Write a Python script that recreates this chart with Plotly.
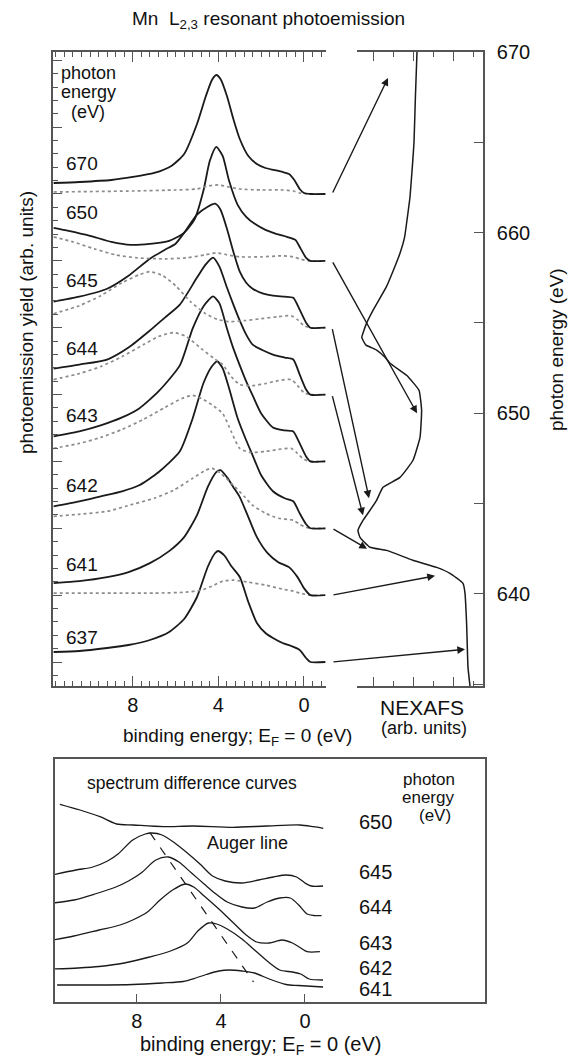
import plotly.graph_objects as go

W, H = 568, 1059
FONT = "Liberation Sans, Arial, Helvetica, sans-serif"

# ---------------- data ----------------
PHOTON_ENERGIES = [637, 641, 642, 643, 644, 645, 650, 670]

# top panel: (binding energy eV, yield arb. units above the spectrum's own baseline)
S637 = [(11.7,10),(10.5,11),(9.2,14),(8.2,17),(7.2,22),(6.3,30),(5.6,43),(5.0,65),(4.5,95),(4.15,109),(4.0,111),(3.7,106),(3.4,96),(3.0,85),(2.6,60),(2.2,39),(1.8,29),(1.45,24),(1.0,19),(0.6,16),(0.2,12),(-0.1,4),(-0.3,0),(-1.0,0)]
S641 = [(11.7,12),(10.5,14),(9.2,18),(8.2,23),(7.2,32),(6.3,44),(5.6,58),(5.0,80),(4.5,108),(4.1,123),(3.9,125),(3.6,118),(3.3,108),(3.0,98),(2.6,78),(2.2,58),(1.7,42),(1.2,33),(0.7,28),(0.3,18),(0.0,7),(-0.3,0),(-1.0,0)]
S642 = [(11.7,22),(10.5,27),(9.5,32),(8.5,37),(7.7,43),(6.8,56),(5.8,77),(5.2,110),(4.7,145),(4.3,162),(4.05,167),(3.8,160),(3.5,140),(3.1,110),(2.7,88),(2.4,73),(2.0,53),(1.45,37),(0.9,30),(0.5,27),(0.2,15),(-0.1,4),(-0.3,0),(-1.0,0)]
S643 = [(11.7,25),(10.5,30),(9.5,36),(8.5,44),(7.7,53),(6.8,70),(5.8,96),(5.2,133),(4.7,155),(4.25,165),(3.95,158),(3.6,133),(3.3,113),(3.0,96),(2.7,80),(2.4,66),(2.0,48),(1.45,34),(0.9,31),(0.5,30),(0.2,18),(-0.1,5),(-0.3,0),(-1.0,0)]
S644 = [(11.7,26),(10.5,30),(9.2,35),(8.2,47),(7.2,64),(6.5,77),(5.8,90),(5.0,117),(4.6,130),(4.25,137),(3.95,128),(3.6,107),(3.3,90),(3.0,74),(2.7,60),(2.4,50),(1.9,44),(1.45,40),(0.9,37),(0.5,35),(0.2,20),(-0.1,5),(-0.3,0),(-1.0,0)]
S645 = [(11.7,26),(10.5,31),(9.2,39),(8.2,52),(7.2,69),(6.5,78),(6.0,84),(5.5,98),(5.0,113),(4.5,121),(4.15,124),(3.9,118),(3.6,99),(3.3,76),(3.0,56),(2.7,45),(2.4,39),(1.9,34),(1.45,32),(0.9,31),(0.5,30),(0.2,18),(-0.1,5),(-0.3,0),(-1.0,0)]
S650 = [(11.7,33),(11.0,30),(10.0,25),(9.0,19),(8.1,16),(7.2,17),(6.3,20),(5.6,28),(5.1,42),(4.7,70),(4.4,100),(4.1,114),(3.8,105),(3.5,80),(3.1,56),(2.7,44),(2.3,37),(1.8,31),(1.3,27),(0.8,24),(0.4,21),(0.15,12),(-0.1,3),(-0.3,0),(-1.0,0)]
S670 = [(11.7,11),(10.5,12),(9.0,14),(8.0,17),(7.0,21),(6.2,28),(5.6,40),(5.0,70),(4.6,97),(4.3,114),(4.1,119),(3.9,115),(3.6,98),(3.3,75),(3.0,55),(2.6,38),(2.2,30),(1.8,26),(1.4,24),(1.0,22),(0.7,20),(0.45,14),(0.2,5),(0.0,1),(-0.3,0),(-1.0,0)]

D641 = [(11.7,2),(9.0,2),(7.0,2),(5.5,3),(4.8,5),(4.3,9),(3.8,14),(3.3,15),(2.6,13),(1.8,10),(1.0,6),(0.5,4),(0.2,2),(-0.3,0),(-1.0,0)]
D642 = [(11.7,12),(10.5,14),(9.2,17),(8.0,24),(7.0,30),(6.1,38),(5.2,50),(4.6,58),(4.3,60),(3.9,55),(3.3,43),(2.8,32),(2.4,23),(1.8,15),(1.2,10),(0.5,8),(0.2,4),(-0.1,1),(-0.3,0),(-1.0,0)]
D643 = [(11.7,13),(10.5,18),(9.5,24),(8.5,32),(7.5,42),(6.5,54),(5.7,63),(5.2,66),(4.7,62),(4.2,55),(3.8,48),(3.4,30),(3.0,13),(2.5,9),(1.8,10),(1.2,12),(0.6,13),(0.3,8),(0.0,2),(-0.3,0),(-1.0,0)]
D644 = [(11.7,15),(10.5,21),(9.5,28),(8.5,38),(7.5,50),(6.8,58),(6.1,62),(5.5,58),(4.8,46),(4.2,36),(3.8,30),(3.4,18),(3.0,10),(2.4,9),(1.8,11),(1.2,14),(0.6,15),(0.3,9),(0.0,2),(-0.3,0),(-1.0,0)]
D645 = [(11.7,14),(10.5,22),(9.5,32),(8.5,45),(7.7,53),(7.2,56),(6.6,52),(6.0,42),(5.3,26),(4.6,14),(4.0,8),(3.5,6),(2.8,7),(2.0,9),(1.2,11),(0.6,12),(0.3,8),(0.0,2),(-0.3,0),(-1.0,0)]
D650 = [(11.7,24),(10.8,19),(9.8,12),(8.8,6),(7.8,3),(6.5,2),(5.5,3),(4.6,6),(4.1,8),(3.6,6),(3.0,4),(2.0,4),(1.0,5),(0.5,4),(0.2,2),(-0.2,0),(-1.0,0)]
D670 = [(11.7,2),(8.0,3),(6.0,4),(5.0,5),(4.5,8),(4.0,9),(3.5,7),(3.0,5),(2.0,4),(1.0,4),(0.5,3),(0.2,1),(-0.3,0),(-1.0,0)]

SOLID = [S637, S641, S642, S643, S644, S645, S650, S670]
DOTTED = [None, D641, D642, D643, D644, D645, D650, D670]

# NEXAFS: photon energy (eV) vs absorption (arb. units)
NEXAFS_E = [670.0, 667.5, 665.0, 663.85, 661.97, 660.86, 659.75, 658.86, 657.92, 656.98, 655.7, 654.99, 654.21, 654.04, 653.77, 653.5, 653.1, 652.77, 652.1, 651.27, 650.17, 648.67, 647.4, 646.45, 645.9, 645.18, 644.63, 644.07, 643.52, 643.13, 642.58, 642.41, 641.86, 641.47, 641.14, 640.58, 640.03, 638.37, 635.93, 634.9]
NEXAFS_I = [2.2, 2.12, 2.05, 1.98, 1.85, 1.72, 1.58, 1.35, 1.02, 0.66, 0.0, -0.32, -0.56, -0.5, -0.35, 0.18, 0.6, 0.85, 1.68, 2.3, 2.43, 2.35, 2.0, 1.35, 0.5, 0.18, -0.15, -0.5, -0.75, -0.65, -0.15, 0.68, 2.0, 3.18, 3.85, 4.5, 4.6, 4.68, 4.75, 4.85]

# arrow heads on the NEXAFS curve (one per spectrum, same order as PHOTON_ENERGIES)
ARROW_HEAD_E = [636.93, 641.0, 642.5, 643.4, 644.35, 645.3, 650.0, 668.56]
ARROW_HEAD_I = [4.6, 3.1, -0.3, -0.9, -0.5, -0.2, 2.2, 0.75]

# bottom panel: spectrum difference curves (binding energy, arb. units)
DIFF_ENERGIES = [650, 645, 644, 643, 642, 641]
DF650 = [(11.67,19.77),(10.71,19.2),(9.76,18.53),(8.97,17.8),(8.17,17.7),(6.75,17.53),(5.32,17.6),(3.43,17.47),(1.83,17.6),(0.24,17.7),(-0.4,17.53),(-0.87,17.37)]
DF645 = [(11.9,12.77),(10.9,13.2),(10.1,13.5),(9.4,14.1),(8.9,14.8),(8.2,16.2),(7.6,16.8),(7.3,16.9),(6.8,16.7),(6.2,15.9),(5.6,14.9),(5.0,13.8),(4.4,12.6),(3.8,12.1),(3.0,11.9),(2.2,12.2),(1.5,12.5),(0.9,12.7),(0.4,12.5),(0.0,11.9),(-0.3,11.6),(-0.86,11.6)]
DF644 = [(12.0,9.9),(11.0,10.2),(10.0,10.8),(9.0,11.5),(8.4,12.1),(7.8,12.9),(7.1,14.2),(6.5,14.5),(6.0,14.0),(5.4,12.9),(4.8,11.8),(4.3,10.9),(3.7,10.0),(3.0,9.5),(2.4,9.4),(1.8,10.0),(1.2,10.4),(0.7,10.4),(0.3,9.7),(-0.1,8.8),(-0.4,8.65),(-0.79,8.63)]
DF643 = [(12.0,6.2),(11.0,6.6),(9.8,7.2),(8.8,7.7),(8.2,8.2),(7.5,9.0),(6.9,10.2),(6.3,11.2),(5.7,11.8),(5.3,11.5),(4.8,10.6),(4.1,9.3),(3.4,7.9),(2.8,6.7),(2.3,6.0),(1.7,5.9),(1.1,6.2),(0.6,5.9),(0.2,5.4),(-0.1,5.03),(-0.71,5.03)]
DF642 = [(12.0,3.3),(10.8,3.4),(9.8,3.55),(8.6,3.9),(7.4,4.5),(6.4,5.1),(5.6,5.9),(5.1,7.1),(4.6,7.9),(4.2,7.8),(3.7,7.3),(3.0,6.3),(2.4,5.2),(1.8,4.1),(1.2,3.2),(0.6,3.0),(0.2,2.8),(-0.2,2.3),(-0.86,2.2)]
DF641 = [(11.8,1.7),(10.0,1.7),(8.2,1.75),(6.8,1.9),(5.8,2.05),(5.2,2.4),(4.7,2.75),(4.1,3.1),(3.6,3.2),(3.0,3.1),(2.4,2.9),(1.7,2.3),(0.9,1.75),(0.3,1.65),(-0.86,1.5)]
DIFFS = [DF650, DF645, DF644, DF643, DF642, DF641]

AUGER_BE = [7.38, 2.45]
AUGER_Y = [16.93, 2.0]

# photon-energy axis labels
PE_LABEL_VALS = [640, 650, 660, 670]

# ---------------- layout constants ----------------
def fx(p): return p / W
def fy(p): return 1 - p / H

TOP_DOM_Y = [fy(686), fy(52)]
Y_RANGE = [0, 634]
Y2_RANGE = [634.9, 670.0]
STACK0, STACK_STEP = 24.0, 66.86

def y_to_y2(v):
    return Y2_RANGE[0] + (v - Y_RANGE[0]) / (Y_RANGE[1] - Y_RANGE[0]) * (Y2_RANGE[1] - Y2_RANGE[0])

ARROW_TAIL_X = -2.05  # in NEXAFS-axis units, i.e. in the gap between the two top panels

fig = go.Figure()

for k, (sol, dot) in enumerate(zip(SOLID, DOTTED)):
    off = STACK0 + STACK_STEP * k
    if dot is not None:
        fig.add_trace(go.Scatter(x=[p[0] for p in dot], y=[p[1] + off for p in dot],
                                 mode="lines", line=dict(color="#8c8c8c", width=1.7, dash="dot", shape="spline", smoothing=0.6),
                                 xaxis="x", yaxis="y", showlegend=False, hoverinfo="skip"))
    fig.add_trace(go.Scatter(x=[p[0] for p in sol], y=[p[1] + off for p in sol],
                             mode="lines", line=dict(color="#1a1a1a", width=1.8, shape="spline", smoothing=0.6),
                             xaxis="x", yaxis="y", showlegend=False, hoverinfo="skip"))

fig.add_trace(go.Scatter(x=NEXAFS_I, y=NEXAFS_E, mode="lines",
                         line=dict(color="#1a1a1a", width=1.5, shape="spline", smoothing=0.4),
                         xaxis="x2", yaxis="y2", showlegend=False, hoverinfo="skip"))

for d in DIFFS:
    fig.add_trace(go.Scatter(x=[p[0] for p in d], y=[p[1] for p in d], mode="lines",
                             line=dict(color="#1a1a1a", width=1.3, shape="spline", smoothing=0.8),
                             xaxis="x3", yaxis="y3", showlegend=False, hoverinfo="skip"))
fig.add_trace(go.Scatter(x=AUGER_BE, y=AUGER_Y, mode="lines",
                         line=dict(color="#1a1a1a", width=1.2, dash="dash"),
                         xaxis="x3", yaxis="y3", showlegend=False, hoverinfo="skip"))

AX = dict(showgrid=False, zeroline=False, linecolor="#555", linewidth=1.6,
          tickcolor="#555", tickwidth=1.3, automargin=False)

annotations = []
# arrows from spectrum baselines to the NEXAFS curve
for k in range(len(PHOTON_ENERGIES)):
    annotations.append(dict(x=ARROW_HEAD_I[k], y=ARROW_HEAD_E[k], xref="x2", yref="y2",
                            ax=ARROW_TAIL_X, ay=y_to_y2(STACK0 + STACK_STEP * k), axref="x2", ayref="y2",
                            showarrow=True, arrowhead=2, arrowsize=1.1, arrowwidth=1.4,
                            arrowcolor="#1a1a1a", text="", standoff=0))

def label(text, x, y, size=19, xanchor="center", angle=0):
    annotations.append(dict(text=text, x=fx(x), y=fy(y), xref="paper", yref="paper",
                            xanchor=xanchor, yanchor="middle", showarrow=False, textangle=angle,
                            font=dict(family=FONT, size=size, color="#111")))

label("Mn&nbsp; L<sub>2,3</sub> resonant photoemission", 268, 20, 19)
label("photon", 88, 73, 18)
label("energy", 88, 92, 18)
label("(eV)", 88, 112, 18)
TOP_LABEL_Y = [637, 564, 485, 415, 348, 280, 212, 163]
for e, yy in zip(PHOTON_ENERGIES, TOP_LABEL_Y):
    label(str(e), 82, yy, 19)
label("binding energy; E<sub>F</sub> = 0 (eV)", 237, 737, 19)
label("NEXAFS", 422, 707, 21)
label("(arb. units)", 424, 728, 18)
label("photoemission yield (arb. units)", 26, 323, 19, angle=-90)
label("photon energy (eV)", 556, 350, 19, angle=-90)

label("spectrum difference curves", 85, 783, 17.5, xanchor="left")
label("Auger line", 247, 843, 18)
DIFF_LABEL_Y = [822, 872, 907, 943, 968, 989]
for e, yy in zip(DIFF_ENERGIES, DIFF_LABEL_Y):
    label(str(e), 375, yy, 20)
label("photon", 429, 779, 17)
label("energy", 428, 797, 17)
label("(eV)", 435, 815, 17)
label("binding energy; E<sub>F</sub> = 0 (eV)", 261, 1045, 20)

fig.update_layout(
    width=W, height=H, autosize=False,
    margin=dict(l=0, r=0, t=0, b=0, pad=0, autoexpand=False),
    paper_bgcolor="white", plot_bgcolor="white",
    font=dict(family=FONT, size=19, color="#111"),
    showlegend=False,
    xaxis=dict(AX, domain=[fx(53), fx(326)], range=[11.73, -1.03], anchor="y",
               showline=True, mirror="ticks", ticks="inside", ticklen=10,
               tickmode="linear", tick0=0, dtick=4, tickfont=dict(size=20),
               minor=dict(ticks="inside", ticklen=5, dtick=0.4, tick0=0, tickcolor="#555")),
    yaxis=dict(AX, domain=TOP_DOM_Y, range=Y_RANGE, anchor="x",
               showline=True, ticks="inside", ticklen=9, showticklabels=False,
               tickmode="linear", tick0=STACK0, dtick=STACK_STEP,
               minor=dict(ticks="inside", ticklen=5, dtick=STACK_STEP / 5, tick0=STACK0, tickcolor="#555")),
    xaxis2=dict(AX, domain=[fx(357), fx(483)], range=[-0.8, 5.5], anchor="y2",
                showline=True, mirror="ticks", ticks="inside", ticklen=9, showticklabels=False,
                tickmode="linear", tick0=0, dtick=2,
                minor=dict(ticks="inside", ticklen=5, dtick=1, tick0=0, tickcolor="#555")),
    yaxis2=dict(AX, domain=TOP_DOM_Y, range=list(Y2_RANGE), anchor="x2", side="right",
                showline=True, ticks="inside", ticklen=9,
                tickmode="array", tickvals=PE_LABEL_VALS, tickfont=dict(size=20),
                ticklabelstandoff=8,
                minor=dict(ticks="inside", ticklen=9, tickmode="linear", dtick=5, tick0=635, tickcolor="#555")),
    yaxis4=dict(AX, domain=TOP_DOM_Y, range=list(Y2_RANGE), anchor="x2", side="right",
                overlaying="y2", showline=False, ticks="inside", ticklen=5, showticklabels=False,
                tickmode="linear", tick0=635, dtick=1),
    xaxis3=dict(AX, domain=[fx(55), fx(485)], range=[11.9, -8.57], anchor="y3",
                showline=True, mirror=True, ticks="inside", ticklen=8,
                tickmode="array", tickvals=[8, 4, 0], tickfont=dict(size=20)),
    yaxis3=dict(AX, domain=[fy(1002), fy(759)], range=[0, 24.3], anchor="x3",
                showline=True, mirror=True, ticks="", showticklabels=False),
    annotations=annotations,
)

fig.write_html("out.html")
